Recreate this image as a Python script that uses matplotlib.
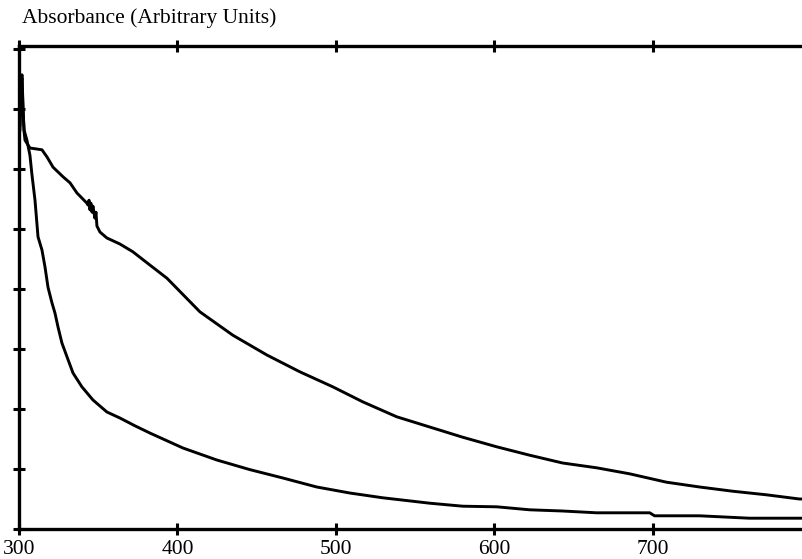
#!/usr/bin/env python3
"""Absorbance spectra of two samples (arbitrary units)."""

import matplotlib

matplotlib.use("Agg")
import matplotlib.pyplot as plt

# wavelength (nm) and absorbance
upper_nm = [300.6, 301.3, 301.9, 302.5, 303.2, 303.8, 306.9, 314.5, 317.7, 321.5,
            327.8, 332.2, 336.6, 342.9, 343.5, 344.2, 344.8, 345.4, 346.1, 346.7,
            347.9, 348.6, 349.2, 351.1, 355.5, 363.7, 371.9, 382.6, 393.4, 414.2,
            435.0, 456.5, 477.3, 498.1, 517.0, 538.5, 559.3, 580.1, 601.6, 622.4,
            643.2, 664.7, 685.5, 708.8, 729.7, 750.5, 771.9, 792.7, 796.0]
upper_abs = [6.73, 7.48, 7.57, 7.07, 6.62, 6.48, 6.35, 6.32, 6.20, 6.03,
             5.87, 5.77, 5.60, 5.43, 5.40, 5.48, 5.32, 5.43, 5.28, 5.38,
             5.18, 5.28, 5.05, 4.95, 4.85, 4.75, 4.62, 4.40, 4.18, 3.62,
             3.23, 2.90, 2.62, 2.37, 2.12, 1.87, 1.70, 1.53, 1.37, 1.23,
             1.10, 1.02, 0.92, 0.78, 0.70, 0.63, 0.57, 0.50, 0.50]

lower_nm = [300.6, 301.3, 301.9, 302.5, 303.2, 305.0, 306.9, 308.2, 310.1, 312.0,
            314.5, 316.4, 318.3, 320.8, 322.7, 324.6, 327.1, 330.3, 334.1, 339.7,
            346.7, 355.5, 363.7, 373.2, 382.6, 403.5, 424.9, 445.7, 466.6, 488.0,
            508.8, 529.7, 559.3, 580.1, 601.6, 622.4, 643.2, 664.7, 698.2, 701.3,
            729.7, 761.2, 792.7, 796.0]
lower_abs = [6.65, 7.40, 7.52, 6.98, 6.65, 6.48, 6.23, 5.90, 5.48, 4.87,
             4.65, 4.37, 4.03, 3.77, 3.60, 3.37, 3.10, 2.87, 2.60, 2.37,
             2.15, 1.95, 1.85, 1.72, 1.60, 1.35, 1.15, 0.99, 0.85, 0.70,
             0.60, 0.52, 0.43, 0.38, 0.37, 0.32, 0.30, 0.27, 0.27, 0.22,
             0.22, 0.18, 0.18, 0.18]

x_ticks = [300, 400, 500, 600, 700]
y_ticks = [0, 1, 2, 3, 4, 5, 6, 7, 8]

plt.rcParams["font.family"] = ["Liberation Serif", "DejaVu Serif"]

fig = plt.figure(figsize=(8.03, 5.59), dpi=100)
ax = fig.add_axes([19 / 803, 30 / 559, 1 - 19 / 803, 483 / 559])

ax.plot(upper_nm, upper_abs, color="black", linewidth=2.1)
ax.plot(lower_nm, lower_abs, color="black", linewidth=2.1)

ax.set_xlim(300, 795)
ax.set_ylim(0, 8.05)
ax.set_xticks(x_ticks)
ax.set_yticks(y_ticks)
ax.set_yticklabels([])
ax.tick_params(axis="both", direction="inout", length=8, width=2.2, color="black",
               top=True, labelsize=15.5, pad=4)
ax.tick_params(axis="x", labeltop=False)

for side in ("left", "bottom", "top"):
    ax.spines[side].set_linewidth(2.4)
ax.spines["right"].set_visible(False)

fig.text(22 / 803, 1 - 18 / 559, "Absorbance (Arbitrary Units)", fontsize=15.5,
         ha="left", va="center")

fig.savefig("out.png", dpi=100)
